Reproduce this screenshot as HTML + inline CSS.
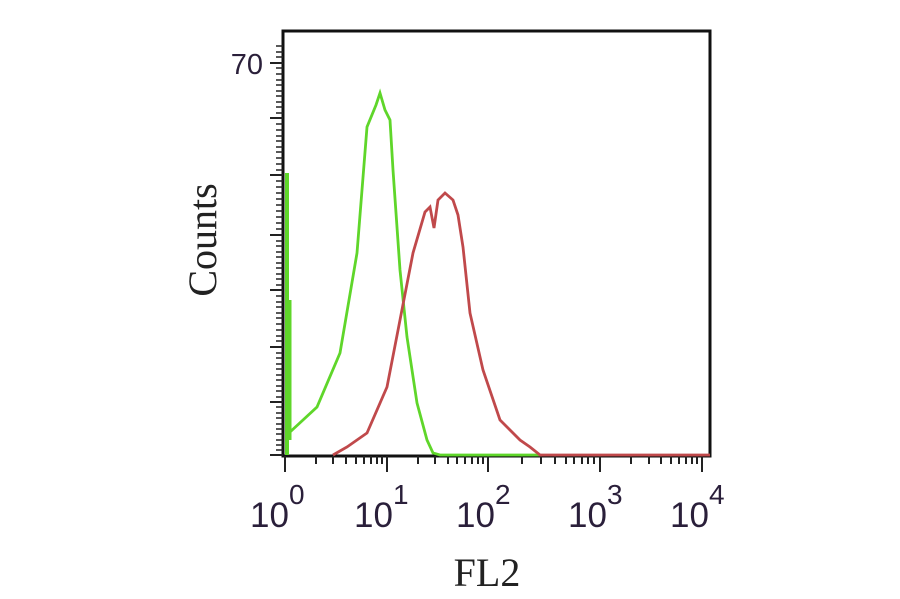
<!DOCTYPE html>
<html><head><meta charset="utf-8"><style>
body{margin:0;background:#fff;width:900px;height:594px;overflow:hidden}
</style></head><body>
<svg width="900" height="594" xmlns="http://www.w3.org/2000/svg">
<rect x="283" y="31" width="427" height="425" fill="none" stroke="#111" stroke-width="3"/>
<g stroke="#222" stroke-width="2">
<line x1="270" y1="63" x2="283" y2="63"/><line x1="270" y1="118" x2="283" y2="118"/>
<line x1="270" y1="175" x2="283" y2="175"/><line x1="270" y1="235" x2="283" y2="235"/>
<line x1="270" y1="290" x2="283" y2="290"/><line x1="270" y1="347" x2="283" y2="347"/>
<line x1="270" y1="402" x2="283" y2="402"/><line x1="270" y1="455" x2="283" y2="455"/>
</g>
<g stroke="#222" stroke-width="1.5">
<path d="M276 46H283M276 52H283M276 57H283M276 68H283M276 74H283M276 80H283M276 85H283M276 91H283M276 96H283M276 102H283M276 107H283M276 113H283M276 124H283M276 130H283M276 136H283M276 141H283M276 147H283M276 152H283M276 158H283M276 164H283M276 170H283M276 181H283M276 187H283M276 193H283M276 199H283M276 205H283M276 211H283M276 217H283M276 223H283M276 229H283M276 241H283M276 246H283M276 252H283M276 257H283M276 263H283M276 268H283M276 274H283M276 279H283M276 285H283M276 296H283M276 302H283M276 307H283M276 313H283M276 318H283M276 324H283M276 330H283M276 336H283M276 341H283M276 353H283M276 358H283M276 364H283M276 369H283M276 375H283M276 380H283M276 386H283M276 391H283M276 397H283M276 407H283M276 413H283M276 418H283M276 424H283M276 429H283M276 434H283M276 440H283M276 445H283M276 450H283"/>
</g>
<g stroke="#222" stroke-width="2">
<line x1="285" y1="456" x2="285" y2="472"/><line x1="387" y1="456" x2="387" y2="472"/>
<line x1="488" y1="456" x2="488" y2="472"/><line x1="600" y1="456" x2="600" y2="472"/>
<line x1="702" y1="456" x2="702" y2="472"/>
</g>
<g stroke="#222" stroke-width="2">
<path d="M316 456v8M333 456v8M346 456v8M356 456v8M364 456v8M371 456v8M377 456v8M382 456v8
M418 456v8M435 456v8M448 456v8M457 456v8M465 456v8M472 456v8M478 456v8M483 456v8
M522 456v8M541 456v8M555 456v8M566 456v8M574 456v8M582 456v8M588 456v8M594 456v8
M631 456v8M649 456v8M661 456v8M671 456v8M679 456v8M686 456v8M692 456v8M697 456v8"/>
</g>
<line x1="287" y1="173" x2="287" y2="455" stroke="#5fd62a" stroke-width="4"/>
<line x1="290" y1="300" x2="290" y2="440" stroke="#5fd62a" stroke-width="3"/>
<polyline fill="none" stroke="#5fd62a" stroke-width="2.8" points="290,432 303,420 317,407 340,353 357,253 367,127 376,105 380,93 385,110 390,120 393,170 400,270 407,337 417,403 427,440 433,453 440,455 540,455"/>
<polyline fill="none" stroke="#c0494b" stroke-width="2.8" points="333,455 347,447 367,433 387,387 400,320 413,253 425,212 430,207 434,228 438,200 445,193 453,200 458,215 463,247 470,313 483,370 500,420 520,440 530,447 540,455 710,455"/>
<g font-family="Liberation Sans, sans-serif" fill="#2a1f3a">
<text x="263" y="74" font-size="29" text-anchor="end">70</text>
<g font-size="35">
<text x="250" y="527">10</text><text x="289" y="504" font-size="28">0</text>
<text x="354" y="527">10</text><text x="393" y="504" font-size="28">1</text>
<text x="456" y="527">10</text><text x="495" y="504" font-size="28">2</text>
<text x="568" y="527">10</text><text x="607" y="504" font-size="28">3</text>
<text x="670" y="527">10</text><text x="709" y="504" font-size="28">4</text>
</g>
</g>
<g font-family="Liberation Serif, serif" fill="#222" font-size="40">
<text x="487" y="586" text-anchor="middle">FL2</text>
<text transform="translate(216,240) rotate(-90)" text-anchor="middle">Counts</text>
</g>
</svg>
</body></html>
